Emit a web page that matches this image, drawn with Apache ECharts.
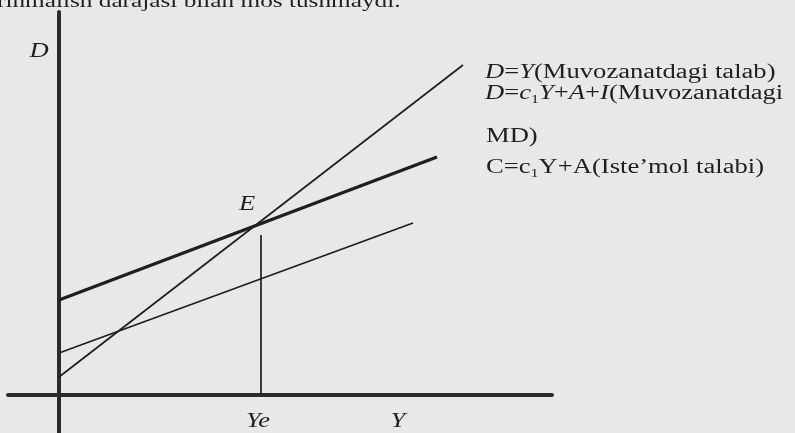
<!DOCTYPE html>
<html>
<head>
<meta charset="utf-8">
<script src="https://cdn.jsdelivr.net/npm/echarts@6/dist/echarts.min.js"></script>
<style>
    html, body { margin: 0; padding: 0; background: #e8e8e8; }
    #chart { width: 795px; height: 433px; }
</style>
</head>
<body>
<div id="chart"></div>
<script>
    // D=Y chizig'i (45 gradus)
    var lineDY = [[0, 0.45], [10.1, 8.25]];
    // D=c1Y+A+I (muvozanatdagi MD, qalin chiziq)
    var lineMD = [[0, 2.375], [9.45, 5.95]];
    // C=c1Y+A (iste'mol talabi)
    var lineC = [[0, 1.05], [8.85, 4.3]];
    // Ye dan E ga qadar vertikal chiziq
    var lineYe = [[5.05, 0], [5.05, 4.0]];

    var axisNames = ['D', 'Y', 'Ye', 'E'];
    var legendLines = [
        '{i|D}{n|=}{i|Y}{n|(Muvozanatdagi talab)}',
        '{i|D}{n|=}{i|c}{s|1}{i|Y}{n|+}{i|A}{n|+}{i|I}{n|(Muvozanatdagi}',
        '{n|MD)}',
        '{n|C=c}{s|1}{n|Y+A(Iste\u2019mol talabi)}'
    ];
    var topLine = 'rinmalish darajasi bilan mos tushmaydi.';

    var serif = 'Liberation Serif';
    var ink = '#1f1f1f';
    var sx = 1.33;   // skanerda matn gorizontal cho'zilgan

    var rich = {
        n: { fontFamily: serif, fontSize: 20, fill: ink, lineHeight: 23 },
        i: { fontFamily: serif, fontSize: 20, fontStyle: 'italic', fill: ink, lineHeight: 23 },
        s: { fontFamily: serif, fontSize: 12, fill: ink, lineHeight: 12, verticalAlign: 'bottom' }
    };

    function lineSeries(data, width) {
        return {
            type: 'line',
            data: data,
            symbol: 'none',
            silent: true,
            lineStyle: { color: ink, width: width },
            z: 3
        };
    }

    function txt(x, y, text, opt) {
        return {
            type: 'text',
            x: x,
            y: y,
            scaleX: sx,
            silent: true,
            style: Object.assign({
                text: text,
                fontFamily: serif,
                fontSize: 20,
                fill: ink,
                align: 'center',
                verticalAlign: 'middle'
            }, opt || {})
        };
    }

    var myChart = echarts.init(document.getElementById('chart'));
    myChart.setOption({
        backgroundColor: '#e8e8e8',
        animation: false,
        grid: { left: 8, right: 243, top: 12, bottom: 0 },
        xAxis: {
            type: 'value',
            min: -1.275,
            max: 12.325,
            axisLine: { onZero: true, lineStyle: { color: '#2b2b2b', width: 4 } },
            axisTick: { show: false },
            axisLabel: { show: false },
            splitLine: { show: false }
        },
        yAxis: {
            type: 'value',
            min: -0.95,
            max: 9.575,
            axisLine: { show: true, onZero: true, lineStyle: { color: '#2b2b2b', width: 4 } },
            axisTick: { show: false },
            axisLabel: { show: false },
            splitLine: { show: false }
        },
        series: [
            lineSeries(lineDY, 1.7),
            lineSeries(lineMD, 3.4),
            lineSeries(lineC, 1.7),
            lineSeries(lineYe, 1.7)
        ],
        graphic: [
            txt(-3, 2, topLine, { align: 'left', fontSize: 19 }),
            txt(39, 52, axisNames[0], { fontStyle: 'italic' }),
            txt(398, 422, axisNames[1], { fontStyle: 'italic' }),
            txt(258, 422, axisNames[2], { fontStyle: 'italic' }),
            txt(247, 205, axisNames[3], { fontStyle: 'italic' }),
            txt(485, 73, legendLines[0], { align: 'left', rich: rich }),
            txt(485, 94, legendLines[1], { align: 'left', rich: rich }),
            txt(486, 137, legendLines[2], { align: 'left', rich: rich }),
            txt(486, 168, legendLines[3], { align: 'left', rich: rich })
        ]
    });
</script>
</body>
</html>
